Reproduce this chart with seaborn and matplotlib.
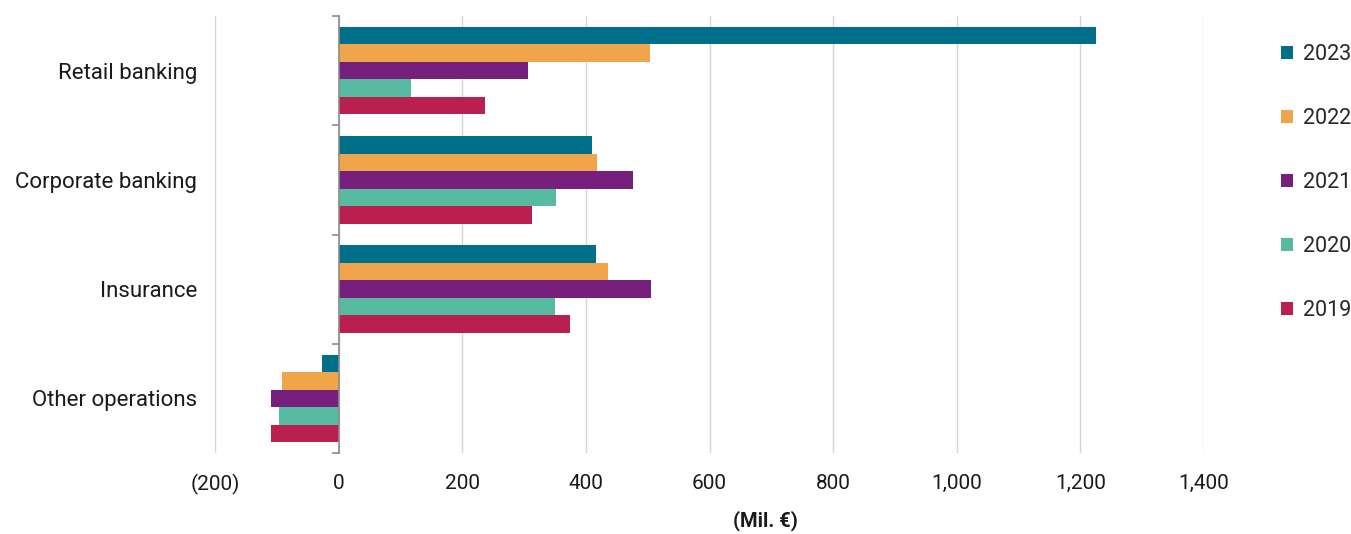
import matplotlib
matplotlib.use("Agg")
import matplotlib.pyplot as plt
from matplotlib.ticker import FuncFormatter, FixedLocator
import seaborn as sns
import pandas as pd

# Segment results by year (Mil. €)
segments = ["Retail banking", "Corporate banking", "Insurance", "Other operations"]
years = ["2023", "2022", "2021", "2020", "2019"]
v2023 = [1226, 410, 416, -27]
v2022 = [504, 418, 435, -92]
v2021 = [306, 476, 506, -110]
v2020 = [117, 351, 350, -96]
v2019 = [237, 313, 375, -109]
colors = ["#00708A", "#F1A54B", "#771F7D", "#56BBA1", "#B92050"]
xticks = [-200, 0, 200, 400, 600, 800, 1000, 1200, 1400]

series = {"2023": v2023, "2022": v2022, "2021": v2021, "2020": v2020, "2019": v2019}
rows = []
for yr in years:
    for seg, val in zip(segments, series[yr]):
        rows.append({"segment": seg, "year": yr, "value": val})
df = pd.DataFrame(rows)

sns.set_theme(style="white")
plt.rcParams["font.family"] = ["Roboto", "DejaVu Sans"]

fig = plt.figure(figsize=(13.51, 5.34), dpi=100)
ax = fig.add_axes([215 / 1351, 1 - 453 / 534, (1204 - 215) / 1351, (453 - 16) / 534])

sns.barplot(data=df, y="segment", x="value", hue="year", order=segments,
            hue_order=years, palette=colors, orient="h", width=0.8,
            saturation=1, linewidth=0, ax=ax, zorder=3)

ax.set_xlim(-200, 1400)
ax.set_ylim(len(segments) - 0.5, -0.5)
ax.xaxis.set_major_locator(FixedLocator(xticks))
ax.xaxis.set_major_formatter(FuncFormatter(
    lambda v, p: f"({abs(v):,.0f})" if v < 0 else f"{v:,.0f}"))
ax.grid(axis="x", color="#d4d4d4", linewidth=1, zorder=0)
ax.grid(axis="y", visible=False)

for s in ["top", "right", "bottom"]:
    ax.spines[s].set_visible(False)
ax.spines["left"].set_position(("data", 0))
ax.spines["left"].set_color("#8c8c8c")
ax.spines["left"].set_linewidth(1.2)
ax.spines["left"].set_zorder(4)

# category boundaries as minor ticks on the zero axis
ax.yaxis.set_minor_locator(FixedLocator([i - 0.5 for i in range(len(segments) + 1)]))
ax.tick_params(axis="y", which="minor", direction="out", length=5, width=1.2,
               color="#8c8c8c", left=True)
ax.tick_params(axis="y", which="major", length=0, pad=102, labelsize=16,
               labelcolor="#1a1a1a")
ax.tick_params(axis="x", which="both", length=0, pad=15, labelsize=15,
               labelcolor="#1a1a1a")

ax.set_ylabel("")
ax.set_xlabel("(Mil. €)", fontsize=14.5, fontweight="bold", color="#1a1a1a")
ax.xaxis.set_label_coords((765 - 215) / (1204 - 215), -0.132)

handles, labels = ax.get_legend_handles_labels()
ax.get_legend().remove()
fig.legend(handles, labels, loc="upper left", bbox_to_anchor=(1281 / 1351, 1 - 44 / 534),
           frameon=False, fontsize=15.5, handlelength=0.55, handleheight=0.55,
           handletextpad=0.45, labelspacing=2.0, borderpad=0, borderaxespad=0)

fig.savefig("out.png", dpi=100, facecolor="white")
